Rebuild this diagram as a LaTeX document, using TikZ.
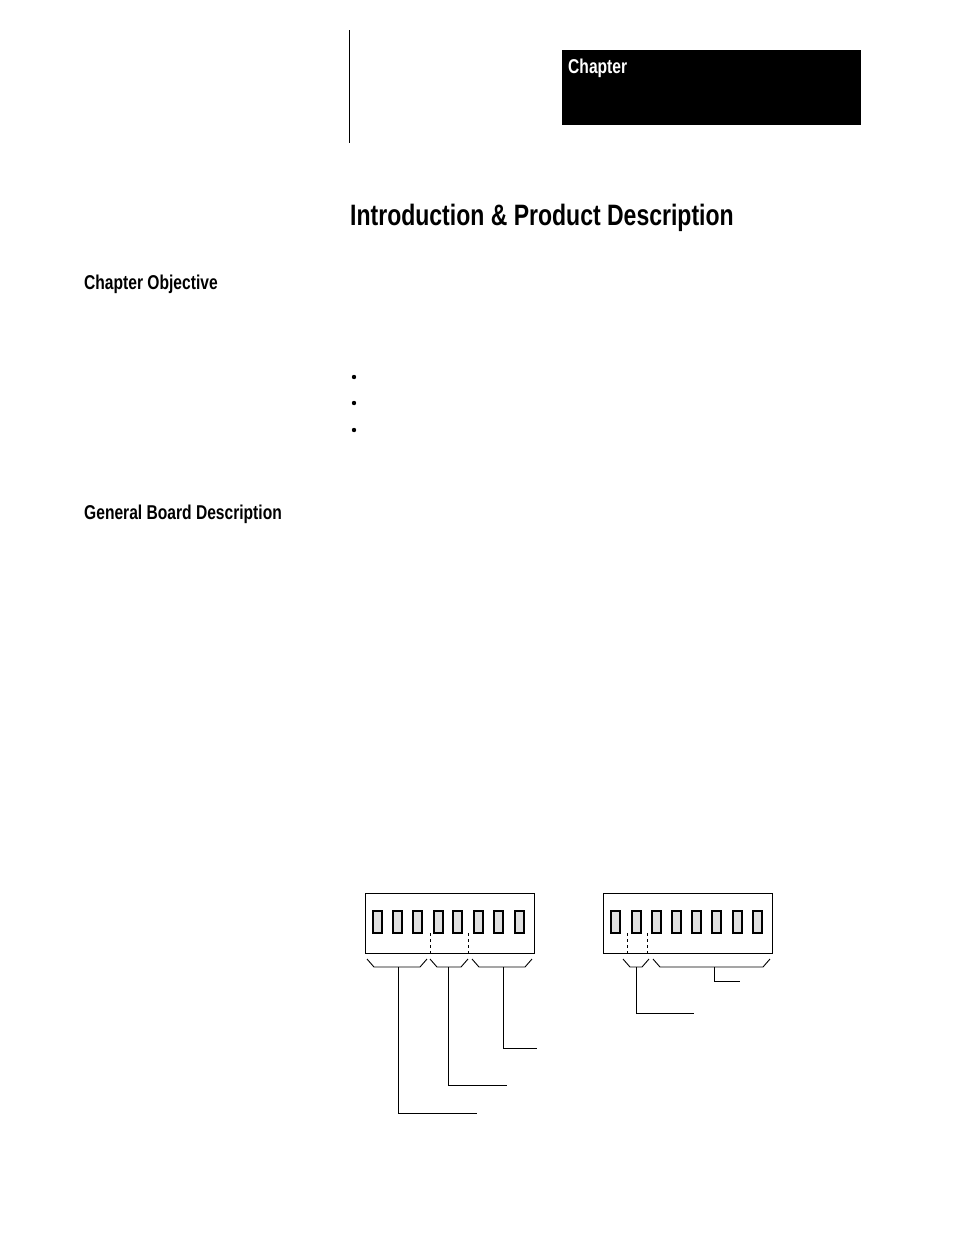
\documentclass[tikz,border=0pt]{standalone}
\usepackage{fontspec}
\setmainfont{Liberation Sans}
\usepackage{graphicx}
\tikzset{
  sw/.style={draw, line width=1.1pt, fill=black!12},
  lead/.style={line width=0.9pt},
  cond/.style={inner sep=0pt, anchor=west, font=\bfseries}
}
\newcommand{\narrow}[1]{\scalebox{0.78}[1]{#1}}
\begin{document}
\begin{tikzpicture}[x=1pt,y=-1pt]
\useasboundingbox (0,0) rectangle (954,1235);
% header
\fill (562,50) rectangle (861,125);
\node[cond, text=white, font=\bfseries\fontsize{20}{22}\selectfont] (chap) at (568,68) {\narrow{Chapter}};
\draw[line width=0.9pt] (349,30) -- (349,143);
\node[cond, font=\bfseries\fontsize{29.5}{32}\selectfont] (title) at (350,218) {\narrow{Introduction \& Product Description}};
\node[cond, font=\bfseries\fontsize{20}{22}\selectfont] (obj) at (84,284) {\narrow{Chapter Objective}};
\node[cond, font=\bfseries\fontsize{20}{22}\selectfont] (gen) at (84,514) {\narrow{General Board Description}};
\foreach \y in {377,403,430} \fill (354,\y) circle (2.2);
% left switch block
\draw[line width=0.9pt] (365,893) rectangle (534,953);
\foreach \x in {373,393,413,434,453,474,494,515}
  \draw[sw] (\x,911) rectangle +(9,22);
\draw[dashed, line width=0.9pt] (430,933) -- (430,953);
\draw[dashed, line width=0.7pt] (468,933) -- (468,953);
% right switch block
\draw[line width=0.9pt] (603,893) rectangle (772,953);
\foreach \x in {611,632,652,672,692,712,733,753}
  \draw[sw] (\x,911) rectangle +(9,22);
\draw[dashed, line width=0.7pt] (627,933) -- (627,953);
\draw[dashed, line width=0.9pt] (647,933) -- (647,953);
% braces and leaders
\foreach \a/\b/\s/\d/\e in {367/427/398/1113/477, 430/468/448/1085/507, 472/532/503/1048/537, 623/649/636/1013/694, 653/770/714/981/740}{
  \draw[lead] (\a,959) -- (\a+7,967) -- (\b-7,967) -- (\b,959);
  \draw[lead] (\s,967) -- (\s,\d) -- (\e,\d);
}
\end{tikzpicture}
\end{document}
